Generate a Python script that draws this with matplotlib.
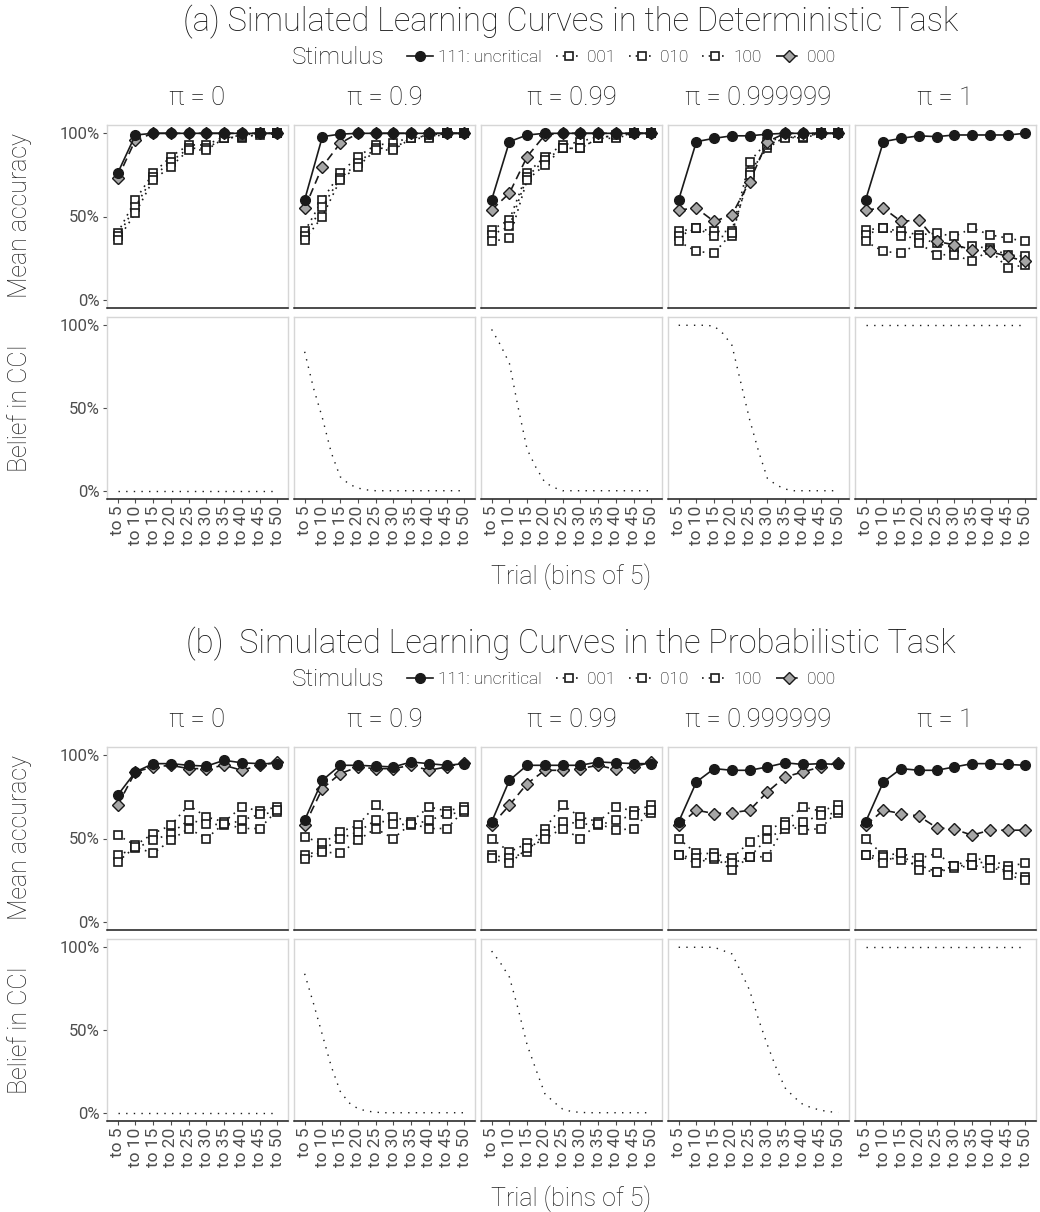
"""Simulated learning curves: deterministic and probabilistic task, five pi levels."""
import matplotlib
matplotlib.use("Agg")
import matplotlib.pyplot as plt
from matplotlib.lines import Line2D
import numpy as np

plt.rcParams["font.family"] = ["Roboto", "DejaVu Sans"]

BINS = ["to 5", "to 10", "to 15", "to 20", "to 25", "to 30", "to 35", "to 40", "to 45", "to 50"]
PI_LEVELS = ["0", "0.9", "0.99", "0.999999", "1"]
STIMULI = ["111: uncritical", "001", "010", "100", "000"]
# belief curve sampled every 2.5 trials
BELIEF_TRIALS = [5, 7.5, 10, 12.5, 15, 17.5, 20, 22.5, 25, 27.5, 30, 32.5, 35, 37.5, 40, 42.5, 45, 47.5, 50]

# ---- deterministic task: mean accuracy per bin, one list per pi level
DET_111 = [
    [0.76, 0.99, 1.0, 1.0, 1.0, 1.0, 1.0, 1.0, 1.0, 1.0],
    [0.60, 0.98, 0.995, 1.0, 1.0, 1.0, 1.0, 1.0, 1.0, 1.0],
    [0.60, 0.95, 0.99, 1.0, 1.0, 1.0, 1.0, 1.0, 1.0, 1.0],
    [0.60, 0.95, 0.97, 0.985, 0.985, 0.995, 1.0, 1.0, 1.0, 1.0],
    [0.60, 0.95, 0.97, 0.985, 0.98, 0.99, 0.99, 0.99, 0.99, 1.0],
]
DET_001 = [
    [0.40, 0.60, 0.76, 0.86, 0.93, 0.93, 0.98, 0.97, 1.0, 1.0],
    [0.41, 0.60, 0.76, 0.86, 0.93, 0.94, 0.98, 0.98, 1.0, 1.0],
    [0.42, 0.48, 0.76, 0.86, 0.93, 0.95, 0.98, 0.98, 1.0, 1.0],
    [0.41, 0.43, 0.41, 0.41, 0.83, 0.95, 0.98, 0.98, 1.0, 1.0],
    [0.42, 0.43, 0.41, 0.39, 0.40, 0.38, 0.43, 0.39, 0.37, 0.35],
]
DET_010 = [
    [0.38, 0.56, 0.74, 0.83, 0.91, 0.91, 0.97, 0.98, 0.99, 1.0],
    [0.38, 0.56, 0.73, 0.82, 0.91, 0.91, 0.97, 0.97, 1.0, 1.0],
    [0.39, 0.44, 0.74, 0.84, 0.91, 0.91, 0.97, 0.97, 1.0, 1.0],
    [0.38, 0.43, 0.38, 0.38, 0.77, 0.91, 0.98, 0.97, 1.0, 1.0],
    [0.39, 0.43, 0.38, 0.37, 0.34, 0.31, 0.32, 0.31, 0.27, 0.26],
]
DET_100 = [
    [0.36, 0.52, 0.72, 0.80, 0.90, 0.90, 0.97, 0.99, 1.0, 1.0],
    [0.36, 0.50, 0.72, 0.80, 0.90, 0.90, 0.97, 0.99, 1.0, 1.0],
    [0.35, 0.37, 0.72, 0.81, 0.91, 0.91, 0.97, 0.99, 1.0, 1.0],
    [0.35, 0.29, 0.28, 0.40, 0.75, 0.93, 0.97, 0.98, 1.0, 1.0],
    [0.35, 0.29, 0.28, 0.34, 0.27, 0.27, 0.23, 0.30, 0.19, 0.21],
]
DET_000 = [
    [0.73, 0.96, 1.0, 1.0, 1.0, 1.0, 1.0, 1.0, 1.0, 1.0],
    [0.55, 0.80, 0.94, 1.0, 1.0, 1.0, 1.0, 1.0, 1.0, 1.0],
    [0.54, 0.64, 0.86, 0.99, 1.0, 1.0, 1.0, 1.0, 1.0, 1.0],
    [0.54, 0.55, 0.47, 0.51, 0.71, 0.95, 1.0, 1.0, 1.0, 1.0],
    [0.54, 0.55, 0.47, 0.48, 0.35, 0.33, 0.30, 0.29, 0.26, 0.23],
]
DET_BELIEF = [
    [0.0] * 19,
    [0.84, 0.62, 0.44, 0.23, 0.085, 0.04, 0.016, 0.005, 0, 0, 0, 0, 0, 0, 0, 0, 0, 0, 0],
    [0.975, 0.88, 0.77, 0.50, 0.25, 0.14, 0.05, 0.02, 0, 0, 0, 0, 0, 0, 0, 0, 0, 0, 0],
    [1.0, 1.0, 1.0, 1.0, 0.995, 0.95, 0.88, 0.655, 0.43, 0.24, 0.075, 0.035, 0.01, 0, 0, 0, 0, 0, 0],
    [1.0] * 19,
]

# ---- probabilistic task
PROB_111 = [
    [0.76, 0.90, 0.95, 0.95, 0.94, 0.935, 0.97, 0.955, 0.95, 0.95],
    [0.61, 0.85, 0.94, 0.94, 0.935, 0.93, 0.96, 0.95, 0.94, 0.95],
    [0.60, 0.85, 0.94, 0.94, 0.94, 0.94, 0.96, 0.955, 0.95, 0.95],
    [0.60, 0.84, 0.92, 0.91, 0.91, 0.93, 0.955, 0.945, 0.95, 0.945],
    [0.60, 0.84, 0.92, 0.91, 0.91, 0.93, 0.95, 0.95, 0.945, 0.94],
]
PROB_001 = [
    [0.52, 0.46, 0.53, 0.58, 0.70, 0.63, 0.60, 0.69, 0.665, 0.69],
    [0.51, 0.47, 0.54, 0.58, 0.70, 0.63, 0.60, 0.69, 0.665, 0.69],
    [0.50, 0.42, 0.47, 0.56, 0.70, 0.63, 0.60, 0.69, 0.665, 0.70],
    [0.50, 0.41, 0.41, 0.38, 0.48, 0.55, 0.60, 0.69, 0.665, 0.70],
    [0.50, 0.40, 0.41, 0.38, 0.41, 0.335, 0.38, 0.37, 0.335, 0.35],
]
PROB_010 = [
    [0.40, 0.44, 0.49, 0.53, 0.61, 0.59, 0.58, 0.61, 0.645, 0.66],
    [0.40, 0.43, 0.50, 0.54, 0.61, 0.59, 0.58, 0.61, 0.645, 0.66],
    [0.40, 0.38, 0.42, 0.53, 0.60, 0.59, 0.58, 0.61, 0.64, 0.655],
    [0.40, 0.38, 0.375, 0.35, 0.39, 0.50, 0.56, 0.60, 0.64, 0.655],
    [0.40, 0.39, 0.37, 0.34, 0.30, 0.32, 0.34, 0.32, 0.31, 0.27],
]
PROB_100 = [
    [0.36, 0.45, 0.41, 0.49, 0.56, 0.50, 0.59, 0.56, 0.56, 0.67],
    [0.375, 0.42, 0.41, 0.49, 0.56, 0.50, 0.59, 0.56, 0.56, 0.67],
    [0.38, 0.35, 0.44, 0.50, 0.56, 0.50, 0.59, 0.55, 0.56, 0.67],
    [0.40, 0.35, 0.39, 0.31, 0.39, 0.39, 0.58, 0.55, 0.56, 0.67],
    [0.40, 0.355, 0.41, 0.31, 0.30, 0.335, 0.34, 0.37, 0.28, 0.25],
]
PROB_000 = [
    [0.70, 0.90, 0.93, 0.94, 0.92, 0.92, 0.94, 0.91, 0.94, 0.96],
    [0.58, 0.80, 0.89, 0.93, 0.92, 0.92, 0.94, 0.91, 0.93, 0.955],
    [0.58, 0.70, 0.83, 0.91, 0.91, 0.92, 0.94, 0.915, 0.93, 0.96],
    [0.58, 0.67, 0.65, 0.655, 0.67, 0.78, 0.87, 0.90, 0.93, 0.955],
    [0.58, 0.67, 0.65, 0.635, 0.565, 0.555, 0.52, 0.55, 0.55, 0.55],
]
PROB_BELIEF = [
    [0.0] * 19,
    [0.84, 0.66, 0.47, 0.28, 0.13, 0.06, 0.025, 0.01, 0.003, 0, 0, 0, 0, 0, 0, 0, 0, 0, 0],
    [0.977, 0.905, 0.82, 0.625, 0.41, 0.26, 0.115, 0.065, 0.022, 0.007, 0.002, 0, 0, 0, 0, 0, 0, 0, 0],
    [1.0, 1.0, 1.0, 1.0, 1.0, 0.98, 0.96, 0.855, 0.74, 0.565, 0.41, 0.27, 0.15, 0.095, 0.05, 0.03, 0.015, 0.006, 0.002],
    [1.0] * 19,
]

W, H = 1040, 1212
INK = "#1a1a1a"
BORDER = "#d6d6d6"
TICKC = "#4d4d4d"
LABELC = "#222222"

STYLES = {
    "111: uncritical": dict(ls="-", marker="o", ms=7.0, mfc=INK, mec=INK, mew=1.0, lw=1.2),
    "001": dict(ls=(0, (1, 3)), marker="s", ms=5.6, mfc="white", mec=INK, mew=1.2, lw=1.2),
    "010": dict(ls=(0, (1, 3)), marker="s", ms=5.6, mfc="white", mec=INK, mew=1.2, lw=1.2),
    "100": dict(ls=(0, (1, 3)), marker="s", ms=5.6, mfc="white", mec=INK, mew=1.2, lw=1.2),
    "000": dict(ls=(0, (5, 3)), marker="D", ms=6.0, mfc="#a6a6a6", mec=INK, mew=1.0, lw=1.2),
}

PANEL_LEFT = [107, 294, 481, 668, 855]
PANEL_W = 181


def px_axes(fig, left, top, width, height):
    return fig.add_axes([left / W, 1 - (top + height) / H, width / W, height / H])


def style_axes(ax, first_col, bottom_row):
    ax.set_xlim(0.4, 10.6)
    ax.set_ylim(-0.05, 1.05)
    for side in ("top", "right", "left"):
        ax.spines[side].set_color(BORDER)
        ax.spines[side].set_linewidth(1.0)
    ax.spines["bottom"].set_color(INK)
    ax.spines["bottom"].set_linewidth(1.1)
    ax.set_yticks([0, 0.5, 1.0])
    if first_col:
        ax.set_yticklabels(["0%", "50%", "100%"])
        ax.tick_params(axis="y", length=3, color=TICKC, labelsize=12, labelcolor=TICKC, pad=2)
    else:
        ax.tick_params(axis="y", length=0, labelleft=False)
    ax.set_xticks(np.arange(1, 11))
    if bottom_row:
        ax.set_xticklabels(BINS, rotation=90, ha="center", va="top")
        ax.tick_params(axis="x", length=3, color=TICKC, labelsize=12.5, labelcolor=TICKC, pad=2)
    else:
        ax.tick_params(axis="x", length=0, labelbottom=False)


def draw_task(fig, off, title, acc, belief):
    # titles and legend
    fig.text(571 / W, 1 - (22 + off) / H, title, ha="center", va="center",
             fontsize=23.5, fontweight="light", color=INK)
    fig.text(338 / W, 1 - (57 + off) / H, "Stimulus", ha="center", va="center",
             fontsize=17.5, fontweight="light", color=INK)
    handles = [Line2D([], [], color=INK, **STYLES[s]) for s in STIMULI]
    fig.legend(handles, STIMULI, loc="center left", bbox_to_anchor=(398 / W, 1 - (57 + off) / H),
               ncol=5, frameon=False, handlelength=1.5, handletextpad=0.3,
               columnspacing=0.8, borderpad=0, prop={"weight": "light", "size": 12.5})
    x = np.arange(1, 11)
    bx = np.array(BELIEF_TRIALS) / 5.0
    for j, pi in enumerate(PI_LEVELS):
        left = PANEL_LEFT[j]
        fig.text((left + PANEL_W / 2) / W, 1 - (98 + off) / H, "\u03c0 = " + pi,
                 ha="center", va="center", fontsize=18.5, fontweight="light", color=INK)
        ax = px_axes(fig, left, 125 + off, PANEL_W, 183)
        for s in ["001", "010", "100", "000", "111: uncritical"]:
            ax.plot(x, acc[s][j], color=INK, **STYLES[s])
        style_axes(ax, j == 0, False)

        ax2 = px_axes(fig, left, 317 + off, PANEL_W, 182)
        ax2.plot(bx, belief[j], color=INK, lw=1.0, ls=(0, (1, 4.5)))
        style_axes(ax2, j == 0, True)

    fig.text(20 / W, 1 - (216 + off) / H, "Mean accuracy", rotation=90, ha="center", va="center",
             fontsize=18, fontweight="light", color=LABELC)
    fig.text(20 / W, 1 - (408 + off) / H, "Belief in CCI", rotation=90, ha="center", va="center",
             fontsize=18, fontweight="light", color=LABELC)
    fig.text(571 / W, 1 - (577 + off) / H, "Trial (bins of 5)", ha="center", va="center",
             fontsize=18, fontweight="light", color=LABELC)


fig = plt.figure(figsize=(W / 100, H / 100), dpi=100)

det_acc = {"111: uncritical": DET_111, "001": DET_001, "010": DET_010, "100": DET_100, "000": DET_000}
prob_acc = {"111: uncritical": PROB_111, "001": PROB_001, "010": PROB_010, "100": PROB_100, "000": PROB_000}

draw_task(fig, 0, "(a) Simulated Learning Curves in the Deterministic Task", det_acc, DET_BELIEF)
draw_task(fig, 622, "(b)  Simulated Learning Curves in the Probabilistic Task", prob_acc, PROB_BELIEF)

fig.savefig("out.png", dpi=100)
